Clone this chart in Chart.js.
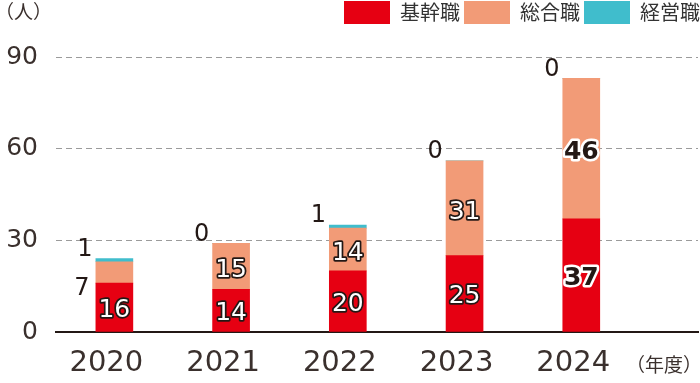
<!DOCTYPE html>
<html><head><meta charset="utf-8">
<script src="https://cdn.jsdelivr.net/npm/chart.js@4.4.1/dist/chart.umd.min.js"></script>
<style>html,body{margin:0;padding:0;background:#fff;}#wrap{width:700px;height:383px;position:relative;}</style>
</head><body><div id="wrap"><canvas id="c"></canvas></div>
<script>
const years = ['2020','2021','2022','2023','2024'];
const seriesNames = ['基幹職','総合職','経営職'];
const kikan = [16,14,20,25,37];
const sogo = [7,15,14,31,46];
const keiei = [1,0,1,0,0];
const yTicks = [0,30,60,90];
const colors = ['#E60012','#F29B77','#40BDCC'];
const unitLabel = '（人）';
const xUnitLabel = '（年度）';

const TEXT = '#3a302d';
const DARK = '#231815';
const NUM_FONT = '"DejaVu Sans", sans-serif';
const JP_FONT = '"Noto Sans CJK JP", sans-serif';

function toXY(arr){ return arr.map((v,i)=>({x:i,y:v})); }

function outlined(ctx, txt, x, y, strong){
  ctx.font = (strong?'bold ':'') + '25px ' + NUM_FONT;
  ctx.lineJoin = 'round';
  ctx.lineWidth = strong ? 5 : 3.5;
  ctx.strokeStyle = strong ? '#fff' : DARK;
  ctx.fillStyle = strong ? DARK : '#fff';
  ctx.strokeText(txt, x, y);
  ctx.fillText(txt, x, y);
}
function plain(ctx, txt, x, y){
  ctx.font = '24px ' + NUM_FONT;
  ctx.fillStyle = DARK;
  ctx.fillText(txt, x, y);
}

const labelPlugin = {
  id: 'barLabels',
  afterInit(chart){
    const lg = chart.legend;
    if (lg) { const f = lg.fit; lg.fit = function(){ f.call(this); this.height = 57; }; }
  },
  afterLayout(chart){
    const lg = chart.legend;
    if (lg) { lg.top -= 3; lg.left += 6; lg.right += 6; }
  },
  afterDatasetsDraw(chart){
    const ctx = chart.ctx;
    const m0 = chart.getDatasetMeta(0), m1 = chart.getDatasetMeta(1), m2 = chart.getDatasetMeta(2);
    ctx.save();
    ctx.textAlign = 'center';
    ctx.textBaseline = 'middle';
    years.forEach((yr, i) => {
      const strong = i === years.length - 1;
      const e0 = m0.data[i];
      outlined(ctx, String(kikan[i]), e0.x, (e0.y + e0.base)/2 + 3, strong);
      const e1 = m1.data[i];
      if (Math.abs(e1.base - e1.y) < 30) {
        plain(ctx, String(sogo[i]), e1.x - e1.width/2 - 14, e1.base + 6);
      } else {
        outlined(ctx, String(sogo[i]), e1.x, (e1.y + e1.base)/2 + 4, strong);
      }
      const e2 = m2.data[i];
      plain(ctx, String(keiei[i]), e2.x - e2.width/2 - 11, e2.y - 9);
    });
    ctx.restore();
  },
  afterDraw(chart){
    const ctx = chart.ctx;
    ctx.save();
    ctx.fillStyle = TEXT;
    ctx.textAlign = 'center';
    ctx.textBaseline = 'middle';
    ctx.font = '19px ' + JP_FONT;
    ctx.fillText(unitLabel, 23.5, 12);
    ctx.font = '19px ' + JP_FONT;
    ctx.fillText(xUnitLabel, 664, 365);
    ctx.restore();
  }
};

new Chart(document.getElementById('c'), {
  type: 'bar',
  data: {
    datasets: [
      { label: seriesNames[0], data: toXY(kikan), backgroundColor: colors[0] },
      { label: seriesNames[1], data: toXY(sogo), backgroundColor: colors[1] },
      { label: seriesNames[2], data: toXY(keiei), backgroundColor: colors[2] }
    ]
  },
  options: {
    responsive: true,
    maintainAspectRatio: false,
    animation: false,
    layout: { padding: { right: 2 } },
    datasets: { bar: { barThickness: 37, borderWidth: 0 } },
    plugins: {
      legend: {
        position: 'top', align: 'end',
        labels: { boxWidth: 46, boxHeight: 23, padding: 4, color: '#333', font: { family: JP_FONT, size: 20 } }
      },
      tooltip: { enabled: false }
    },
    scales: {
      x: {
        type: 'linear', min: -0.5, max: 5, stacked: true, offset: false,
        grid: { display: false, drawTicks: false, offset: false },
        border: { display: true, color: DARK, width: 2 },
        afterBuildTicks(s){ s.ticks = years.map((_, i) => ({ value: i })); },
        ticks: { callback: (v) => years[v] ?? '', font: { family: NUM_FONT, size: 29 }, color: TEXT, padding: 14, labelOffset: -8, maxRotation: 0, autoSkip: false },
        afterFit(s){ s.height = 51; }
      },
      y: {
        min: 0, max: 90, stacked: true,
        afterBuildTicks(s){ s.ticks = yTicks.map(v => ({ value: v })); },
        grid: { color: (c) => (c.tick && c.tick.value === 0) ? 'rgba(0,0,0,0)' : '#9b9b9b', lineWidth: 1, drawTicks: false },
        border: { display: false, dash: [6, 4] },
        ticks: { font: { family: NUM_FONT, size: 25 }, color: TEXT, padding: 18 },
        afterFit(s){ s.width = 56; }
      }
    }
  },
  plugins: [labelPlugin]
});
</script></body></html>
